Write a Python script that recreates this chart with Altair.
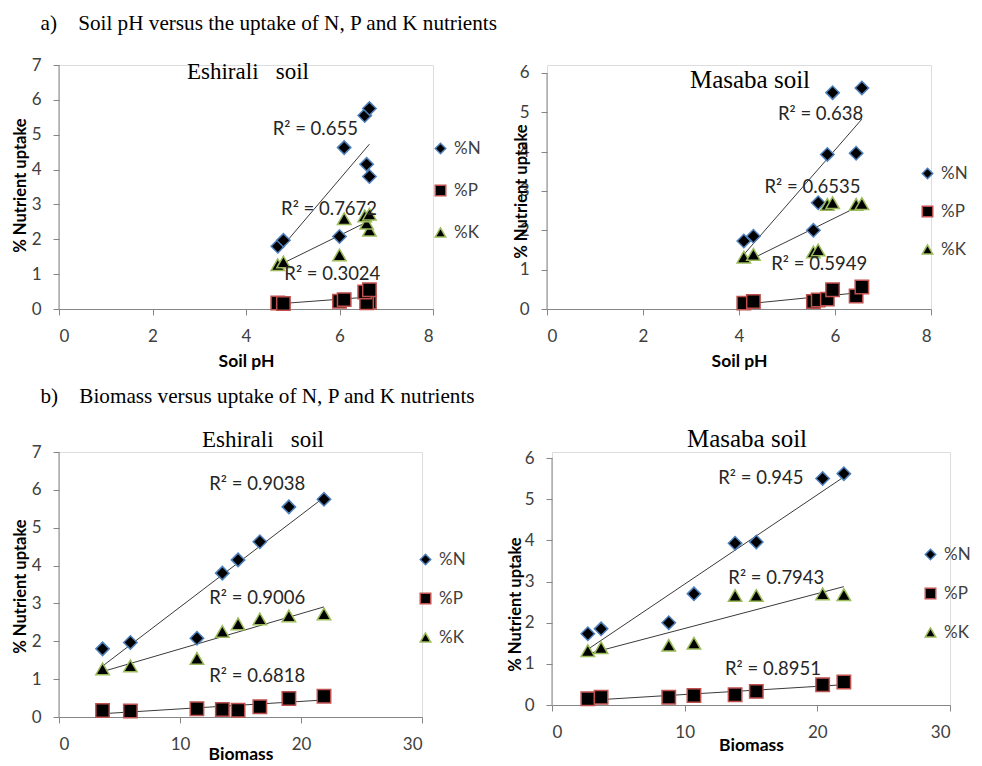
import altair as alt
import pandas as pd

nutrients = ["%N", "%P", "%K"]
shapes = ["diamond", "square", "triangle-up"]
edge_colors = ["#4F81BD", "#C0504D", "#9BBB59"]

# Eshirali soil (8 samples)
esh_biomass = [3.6, 5.9, 11.4, 13.5, 14.8, 16.6, 19.0, 21.9]
esh_ph = [4.68, 4.8, 6.0, 6.64, 6.58, 6.1, 6.54, 6.64]
esh_N = [1.8, 1.97, 2.08, 3.8, 4.15, 4.63, 5.55, 5.75]
esh_P = [0.17, 0.16, 0.22, 0.2, 0.18, 0.27, 0.49, 0.55]
esh_K = [1.27, 1.35, 1.55, 2.26, 2.46, 2.59, 2.67, 2.72]

# Masaba soil (8 samples)
mas_biomass = [2.7, 3.7, 8.8, 10.7, 13.8, 15.4, 20.4, 22.0]
mas_ph = [4.1, 4.3, 5.55, 5.65, 5.84, 6.44, 5.95, 6.56]
mas_N = [1.73, 1.85, 2.0, 2.7, 3.93, 3.96, 5.5, 5.62]
mas_P = [0.15, 0.19, 0.19, 0.23, 0.25, 0.33, 0.49, 0.56]
mas_K = [1.32, 1.39, 1.45, 1.5, 2.66, 2.66, 2.7, 2.68]

# R-squared labels (text, x, y in data units)
r2_p1 = ["R² = 0.655", "R² = 0.7672", "R² = 0.3024"]
r2_p1_x = [4.57, 4.75, 4.82]
r2_p1_y = [5.16, 2.86, 1.0]
r2_p2 = ["R² = 0.638", "R² = 0.6535", "R² = 0.5949"]
r2_p2_x = [4.81, 4.53, 4.67]
r2_p2_y = [4.97, 3.11, 1.14]
r2_p3 = ["R² = 0.9038", "R² = 0.9006", "R² = 0.6818"]
r2_p3_x = [12.42, 12.42, 12.42]
r2_p3_y = [6.15, 3.15, 1.08]
r2_p4 = ["R² = 0.945", "R² = 0.7943", "R² = 0.8951"]
r2_p4_x = [12.53, 13.29, 13.04]
r2_p4_y = [5.51, 3.09, 0.87]

ph_ticks = [0, 2, 4, 6, 8]
bio_ticks = [0, 10, 20, 30]
y7_ticks = [0, 1, 2, 3, 4, 5, 6, 7]
y6_ticks = [0, 1, 2, 3, 4, 5, 6]

NB = "\u00a0"


def long_df(xs, n, p, k):
    rows = []
    for name, vals in zip(nutrients, [n, p, k]):
        for xv, yv in zip(xs, vals):
            rows.append({"x": xv, "y": yv, "nutrient": name})
    return pd.DataFrame(rows)


def panel(df, xdom, xticks, xtitle, ydom, yticks, w, h, ptitle, tsize, tdx, toff,
          r2, r2x, r2y, lx, ly, rp, ytx, yty, xtp):
    xs = alt.Scale(domain=xdom, nice=False, zero=False)
    ys = alt.Scale(domain=ydom, nice=False, zero=False)
    xaxis = alt.Axis(values=xticks, title=xtitle, grid=False, domainColor="#868686",
                     tickColor="#868686", tickSize=6, labelFontSize=17, labelFont="Lato",
                     labelColor="#404040", labelPadding=13, titleFont="Lato",
                     titleFontSize=17.5, titleFontWeight="bold", titleColor="black",
                     titlePadding=xtp)
    yaxis = alt.Axis(values=yticks, title="% Nutrient uptake", grid=False, domain=False,
                     tickColor="#868686", tickSize=6, labelFontSize=17, labelFont="Lato",
                     labelColor="#404040", labelPadding=12, titleFont="Lato",
                     titleFontSize=16.5, titleFontWeight="bold", titleColor="black",
                     titleX=ytx, titleY=yty)
    leg = alt.Legend(orient="none", legendX=lx, legendY=ly, title=None, symbolSize=110,
                     symbolStrokeWidth=1.5, symbolFillColor="black", labelFontSize=17,
                     labelFont="Lato", labelColor="#404040", rowPadding=rp, labelOffset=5,
                     padding=0)
    X = alt.X("x:Q", scale=xs, axis=xaxis)
    Y = alt.Y("y:Q", scale=ys, axis=yaxis)
    base = alt.Chart(df)
    axis_line = alt.Chart(pd.DataFrame({"y": [yticks[0]], "hi": [yticks[-1]]})).mark_rule(
        color="#868686", strokeWidth=1).encode(x=alt.value(0), y=Y, y2="hi:Q")
    reg = base.transform_regression("x", "y", groupby=["nutrient"]).mark_line(
        color="#3a3a3a", strokeWidth=1).encode(x=X, y=Y, detail="nutrient:N")
    pts = base.mark_point(filled=True, size=180, strokeWidth=1.5, opacity=1).encode(
        x=X, y=Y,
        shape=alt.Shape("nutrient:N", scale=alt.Scale(domain=nutrients, range=shapes), legend=leg),
        stroke=alt.Stroke("nutrient:N", scale=alt.Scale(domain=nutrients, range=edge_colors), legend=leg),
        fill=alt.value("black"),
    )
    tdf = pd.DataFrame({"label": r2, "x": r2x, "y": r2y})
    txt = alt.Chart(tdf).mark_text(align="left", baseline="middle", font="Lato", fontSize=18.5,
                                   color="#262626").encode(x=X, y=Y, text="label:N")
    return alt.layer(axis_line, reg, pts, txt).properties(
        width=w, height=h,
        title=alt.TitleParams(ptitle, font="Liberation Serif", fontSize=tsize, fontWeight="normal",
                              color="black", dx=tdx, offset=toff, frame="group", anchor="middle"))


p1 = panel(long_df(esh_ph, esh_N, esh_P, esh_K), [0, 8], ph_ticks, "Soil pH", [0, 7], y7_ticks,
           374, 244, "Eshirali" + NB + NB + " soil", 23, 2, -28, r2_p1, r2_p1_x, r2_p1_y,
           373, 75, 24, -31, 120, 8)
p2 = panel(long_df(mas_ph, mas_N, mas_P, mas_K), [0, 8], ph_ticks, "Soil pH", [0, 6.203], y6_ticks,
           384, 244, "Masaba soil", 25, 11, -29, r2_p2, r2_p2_x, r2_p2_y,
           372, 100, 20, -18, 126, 8)
p3 = panel(long_df(esh_biomass, esh_N, esh_P, esh_K), [0, 30], bio_ticks, "Biomass", [0, 7], y7_ticks,
           363, 265, "Eshirali" + NB + NB + " soil", 23, 22.5, -9, r2_p3, r2_p3_x, r2_p3_y,
           358, 99, 21, -31, 134, -7)
p4 = panel(long_df(mas_biomass, mas_N, mas_P, mas_K), [0, 30], bio_ticks, "Biomass", [0, 6.146], y6_ticks,
           398, 253, "Masaba soil", 25, -4, -3, r2_p4, r2_p4_x, r2_p4_y,
           370, 94, 21, -29, 152, -4)

cap_a = "a)" + NB * 4 + "Soil pH versus the uptake of N, P and K nutrients"
cap_b = "b)" + NB * 4 + "Biomass versus uptake of N, P and K nutrients"

ind = dict(x="independent", y="independent", shape="independent", stroke="independent")

row1 = alt.hconcat(p1, p2, spacing=30).resolve_legend(shape="independent", stroke="independent").resolve_scale(
    **ind).properties(
    title=alt.TitleParams(cap_a, font="Liberation Serif", fontSize=21.2, fontWeight="normal", color="black",
                          anchor="start", dx=29, offset=21))
row2 = alt.hconcat(p3, p4, spacing=39).resolve_legend(shape="independent", stroke="independent").resolve_scale(
    **ind).properties(
    title=alt.TitleParams(cap_b, font="Liberation Serif", fontSize=21.2, fontWeight="normal", color="black",
                          anchor="start", dx=29, offset=19))

chart = alt.vconcat(row1, row2, spacing=16).resolve_legend(
    shape="independent", stroke="independent").resolve_scale(**ind).properties(
    padding={"left": 3, "top": 5, "right": 0, "bottom": 0}).configure_view(stroke=None).configure(
    background="white")

chart.save("out.html", embed_options={"renderer": "svg", "actions": False})
